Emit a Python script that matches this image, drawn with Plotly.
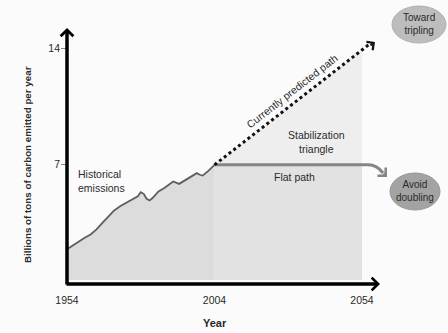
import plotly.graph_objects as go

# ---- data ----
hist_years = [1954, 1956, 1958, 1960, 1962, 1964, 1966, 1968, 1970, 1972, 1974, 1976,
              1978, 1979, 1980, 1981, 1982, 1983, 1985, 1987, 1989, 1990, 1992, 1994,
              1996, 1998, 1999, 2000, 2002, 2004]
hist_values = [1.85, 2.1, 2.3, 2.55, 2.75, 3.05, 3.45, 3.8, 4.2, 4.45, 4.65, 4.85,
               5.05, 5.3, 5.2, 4.9, 4.8, 4.95, 5.35, 5.55, 5.85, 5.95, 5.8, 6.0,
               6.2, 6.45, 6.35, 6.3, 6.6, 6.95]
flat_years = [2004, 2054]
flat_values = [6.95, 6.95]
pred_years = [2004, 2057]
pred_values = [6.95, 14.3]
triangle_years = [2004, 2054, 2054]
triangle_values = [6.95, 13.9, 6.95]
x_ticks = [1954, 2004, 2054]
y_ticks = [7, 14]

FONT = "Liberation Sans"
TXT = "#2a2a2a"

# pixel -> data / paper helpers (for decorations only)
def X(px):
    return 1954 + (px - 67) / 2.95

def Y(py):
    return (280 - py) / 16.57

def PX(px):
    return (px - 61) / 387

def PY(py):
    return 1 - py / 285

fig = go.Figure()

# stabilization triangle
fig.add_trace(go.Scatter(x=triangle_years, y=triangle_values, fill="toself",
                         fillcolor="#eeeeee", line=dict(width=0), mode="lines",
                         hoverinfo="skip"))
# area under flat path
fig.add_trace(go.Scatter(x=flat_years, y=flat_values, fill="tozeroy",
                         fillcolor="#e2e2e2", line=dict(width=0), mode="lines",
                         hoverinfo="skip"))
# historical emissions
fig.add_trace(go.Scatter(x=hist_years, y=hist_values, fill="tozeroy",
                         fillcolor="#dcdcdc", mode="lines",
                         line=dict(color="#5e5e5e", width=1.8)))
# flat path line
fig.add_trace(go.Scatter(x=flat_years, y=flat_values, mode="lines",
                         line=dict(color="#858585", width=3)))
# predicted path (dotted)
fig.add_trace(go.Scatter(x=pred_years, y=pred_values, mode="lines",
                         line=dict(color="#111111", width=3, dash="3px,3px")))

shapes = []
# bend at the end of flat path
shapes.append(dict(type="path", xref="x", yref="y",
                   path=f"M {X(362)},{flat_values[1]} L {X(368)},{flat_values[1]} "
                        f"Q {X(377)},{flat_values[1]} {X(383)},{Y(173)}",
                   line=dict(color="#858585", width=3)))
# ellipses
shapes.append(dict(type="circle", xref="x", yref="y",
                   x0=X(392), x1=X(446), y0=Y(43), y1=Y(6),
                   fillcolor="#bdbdbd", line=dict(color="#b0b0b0", width=1)))
shapes.append(dict(type="circle", xref="x", yref="y",
                   x0=X(390), x1=X(440), y0=Y(210), y1=Y(173),
                   fillcolor="#a3a3a3", line=dict(color="#969696", width=1)))

ann = []
# axes arrows
ann.append(dict(x=X(380), y=Y(284), ax=X(65), ay=Y(284), xref="x", yref="y",
                axref="x", ayref="y", text="", showarrow=True, arrowhead=4,
                arrowsize=0.7, arrowwidth=3.5, arrowcolor="#000000"))
ann.append(dict(x=X(67), y=Y(28), ax=X(67), ay=Y(286), xref="x", yref="y",
                axref="x", ayref="y", text="", showarrow=True, arrowhead=4,
                arrowsize=0.7, arrowwidth=3.5, arrowcolor="#000000"))
# predicted arrow head
ann.append(dict(x=X(375), y=Y(42), ax=X(369), ay=Y(46.5), xref="x", yref="y",
                axref="x", ayref="y", text="", showarrow=True, arrowhead=4,
                arrowsize=1.0, arrowwidth=2, arrowcolor="#111111"))
# flat path arrow head
ann.append(dict(x=X(387), y=Y(177), ax=X(382), ay=Y(172), xref="x", yref="y",
                axref="x", ayref="y", text="", showarrow=True, arrowhead=4,
                arrowsize=0.9, arrowwidth=2.5, arrowcolor="#858585"))

def label(px, py, text, size=10.5, angle=0, align="center", xanchor="center"):
    ann.append(dict(x=X(px), y=Y(py), xref="x", yref="y", text=text, showarrow=False,
                    textangle=angle, align=align, xanchor=xanchor, yanchor="middle",
                    font=dict(family=FONT, size=size, color=TXT)))

label(76, 181, "Historical<br>emissions", align="left", xanchor="left")
label(294, 177, "Flat path")
label(316, 142, "Stabilization<br>triangle")
label(292, 91, "Currently predicted path", angle=-38)
label(419, 24, "Toward<br>tripling", size=10)
label(415, 191, "Avoid<br>doubling", size=10)

# axis titles (paper referenced so they show outside the plot area)
ann.append(dict(x=PX(27), y=PY(165), xref="paper", yref="paper",
                text="<b>Billions of tons of carbon emitted per year</b>",
                showarrow=False, textangle=-90, xanchor="center", yanchor="middle",
                font=dict(family=FONT, size=9.8, color=TXT)))
ann.append(dict(x=PX(215), y=PY(323), xref="paper", yref="paper", text="<b>Year</b>",
                showarrow=False, xanchor="center", yanchor="middle",
                font=dict(family=FONT, size=11, color=TXT)))

fig.update_layout(
    width=448, height=333,
    margin=dict(l=61, r=0, t=0, b=48),
    paper_bgcolor="#fbfbfb", plot_bgcolor="#fbfbfb",
    showlegend=False,
    shapes=shapes, annotations=ann,
    xaxis=dict(range=[X(61), X(448)], tickvals=x_ticks, ticktext=[str(v) for v in x_ticks],
               showgrid=False, zeroline=False, showline=False, ticks="",
               ticklabelstandoff=7,
               tickfont=dict(family=FONT, size=10.5, color=TXT)),
    yaxis=dict(range=[Y(285), Y(0)], tickvals=y_ticks, ticktext=[str(v) for v in y_ticks],
               showgrid=False, zeroline=False, showline=False, ticks="inside",
               ticklen=6, tickcolor="#888888", tickwidth=1,
               tickfont=dict(family=FONT, size=10.5, color=TXT)),
)

fig.write_html("out.html", config={"displayModeBar": False},
               post_script="document.body.style.margin='0';")
